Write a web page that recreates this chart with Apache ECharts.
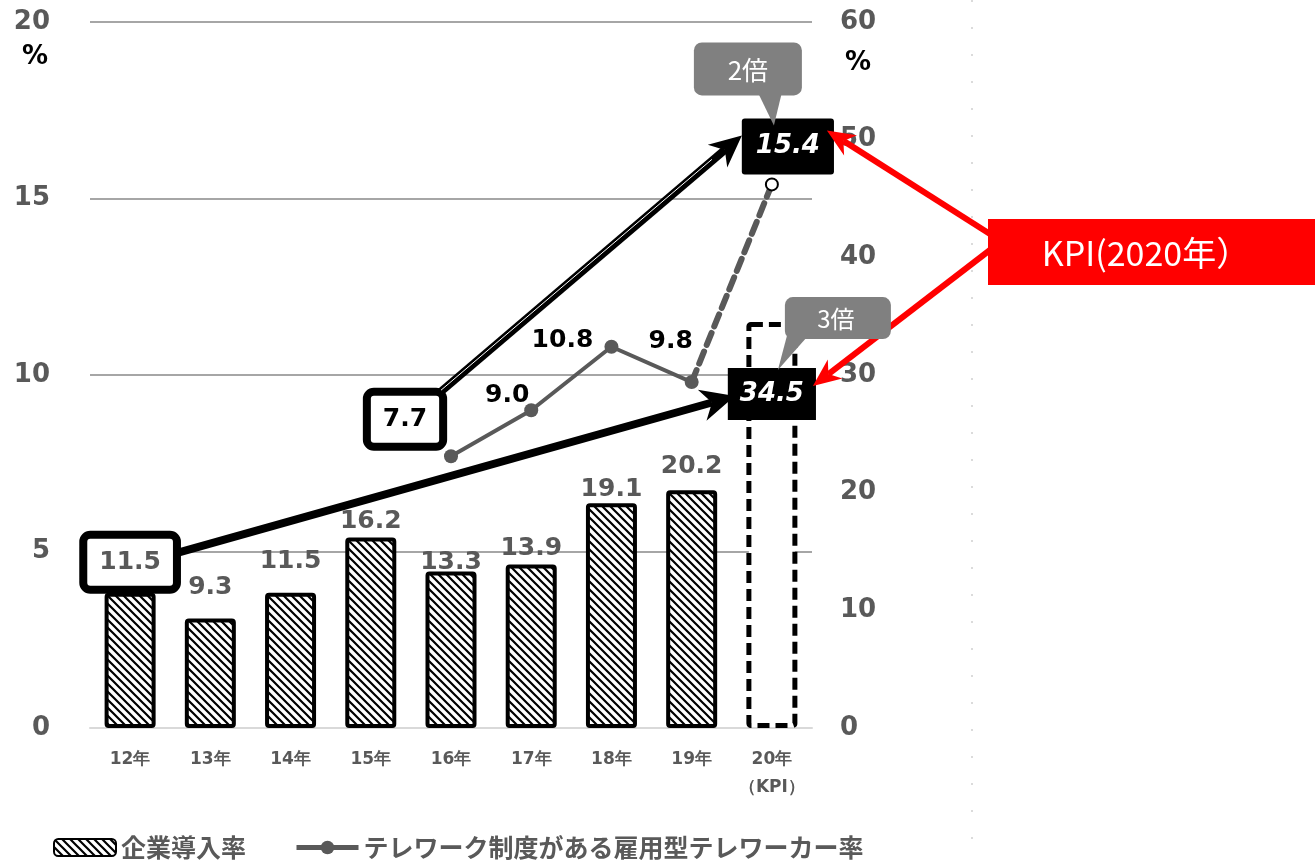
<!DOCTYPE html>
<html>
<head>
<meta charset="utf-8">
<script src="https://cdn.jsdelivr.net/npm/echarts@6/dist/echarts.min.js"></script>
<style>
html,body{margin:0;padding:0;background:#fff;}
#chart{width:1315px;height:860px;}
</style>
</head>
<body>
<div id="chart"></div>
<script>
// ---- data ----
const categories = ['12年','13年','14年','15年','16年','17年','18年','19年','20年\n（KPI）'];
const adoptionRate = [11.5, 9.3, 11.5, 16.2, 13.3, 13.9, 19.1, 20.2, 34.5]; // 企業導入率 (right axis), last = KPI
const teleworkerRate = [null, null, null, null, 7.7, 9.0, 10.8, 9.8];      // 雇用型テレワーカー率 (left axis)
const teleworkerKpi = 15.4;
const leftTicks = {min: 0, max: 20, interval: 5};
const rightTicks = {min: 0, max: 60, interval: 10};
const seriesNames = ['企業導入率', 'テレワーク制度がある雇用型テレワーカー率'];
const kpiText = 'KPI(2020年）';
const calloutTexts = ['2倍', '3倍'];

// ---- layout / style helpers (not data) ----
const barLabelShift = [0, -14, -14, 2, 8, 2, 4, -6, 0];
const GRAY = '#595959';
const NUM_FONT = '"DejaVu Sans", Verdana, sans-serif';
const JP_FONT = '"Noto Sans CJK JP", "Noto Sans", sans-serif';
const fmt1 = p => Number(p.value).toFixed(1);

function hatch() {
  const c = document.createElement('canvas');
  c.width = 8; c.height = 8;
  const g = c.getContext('2d');
  g.fillStyle = '#fff'; g.fillRect(0, 0, 8, 8);
  g.strokeStyle = '#000'; g.lineWidth = 2.2;
  g.beginPath();
  g.moveTo(-1, -1); g.lineTo(9, 9);
  g.moveTo(-5, 3); g.lineTo(5, 13);
  g.moveTo(3, -5); g.lineTo(13, 5);
  g.stroke();
  return c;
}
const hatchPattern = {image: hatch(), repeat: 'repeat'};

const lastIdx = categories.length - 1;

const barData = adoptionRate.map((v, i) => {
  const item = {value: v};
  if (i === 0) {
    item.label = {distance: 7, backgroundColor: '#fff', borderColor: '#000', borderWidth: 8,
      padding: [11, 12], borderRadius: 3};
  } else if (i === lastIdx) {
    item.itemStyle = {color: '#fff', borderColor: '#000', borderWidth: 5, borderType: [12, 6]};
    item.label = {position: ['50%', 46], align: 'center', verticalAlign: 'top',
      backgroundColor: '#000', color: '#fff', fontStyle: 'italic', fontSize: 26,
      lineHeight: 28, padding: [12, 12]};
  } else {
    item.label = {offset: [0, barLabelShift[i]]};
  }
  return item;
});

const lineLabelOffsets = {5: [-24, -15], 6: [-49, -6], 7: [-21, -41]};
const lineData = teleworkerRate.concat([null]).map((v, i) => {
  if (v == null) return '-';
  const item = {value: v};
  if (i === 4) {
    item.label = {show: true, position: 'inside', offset: [-46, -37], color: '#000',
      backgroundColor: '#fff', borderColor: '#000', borderWidth: 8, padding: [11, 12], borderRadius: 3};
  } else if (lineLabelOffsets[i]) {
    item.label = {show: true, position: 'inside', offset: lineLabelOffsets[i], color: '#000'};
  }
  return item;
});

const dashData = categories.map((c, i) => {
  if (i === lastIdx - 1) return {value: teleworkerRate[lastIdx - 1], symbol: 'none'};
  if (i === lastIdx) return {
    value: teleworkerKpi, symbol: 'circle', symbolSize: 12,
    itemStyle: {color: '#fff', borderColor: '#000', borderWidth: 2},
    label: {show: true, position: 'inside', offset: [16, -38], backgroundColor: '#000', color: '#fff',
      fontStyle: 'italic', fontWeight: 'bold', fontSize: 26, lineHeight: 28, padding: [14, 14],
      borderRadius: 3, fontFamily: NUM_FONT, formatter: fmt1}
  };
  return '-';
});

const chart = echarts.init(document.getElementById('chart'), null, {renderer: 'canvas'});

const option = {
  animation: false,
  backgroundColor: '#fff',
  grid: {left: 90, right: 503, top: 22, bottom: 132, containLabel: false},
  legend: {
    left: 48, top: 830, itemWidth: 62, itemHeight: 17, itemGap: 48,
    data: seriesNames,
    lineStyle: {width: 5},
    textStyle: {fontSize: 25, fontWeight: 'bold', color: GRAY, fontFamily: JP_FONT}
  },
  xAxis: {
    type: 'category', data: categories,
    axisLine: {lineStyle: {color: '#d9d9d9', width: 2}},
    axisTick: {show: false},
    axisLabel: {interval: 0, color: GRAY, fontWeight: 'bold', fontSize: 17, margin: 18, lineHeight: 28, fontFamily: NUM_FONT}
  },
  yAxis: [
    Object.assign({type: 'value', position: 'left',
      axisLine: {show: false}, axisTick: {show: false},
      axisLabel: {color: GRAY, fontWeight: 'bold', fontSize: 26, margin: 40, fontFamily: NUM_FONT},
      splitLine: {lineStyle: {color: '#a6a6a6', width: 2}}}, leftTicks),
    Object.assign({type: 'value', position: 'right',
      axisLine: {show: false}, axisTick: {show: false},
      axisLabel: {color: GRAY, fontWeight: 'bold', fontSize: 26, margin: 28, fontFamily: NUM_FONT},
      splitLine: {show: false}}, rightTicks)
  ],
  series: [
    {
      name: seriesNames[0], type: 'bar', yAxisIndex: 1, barWidth: 51,
      data: barData,
      itemStyle: {color: hatchPattern, borderColor: '#000', borderWidth: 4, borderRadius: 2},
      label: {show: true, position: 'top', distance: 5, fontFamily: NUM_FONT, fontWeight: 'bold',
        fontSize: 25, color: GRAY, formatter: fmt1},
      z: 2
    },
    {
      name: seriesNames[1], type: 'line', yAxisIndex: 0,
      data: lineData,
      symbol: 'circle', symbolSize: 14,
      lineStyle: {color: GRAY, width: 4},
      itemStyle: {color: GRAY},
      label: {show: false, fontFamily: NUM_FONT, fontWeight: 'bold', fontSize: 25, color: '#000', formatter: fmt1},
      z: 5
    },
    {
      name: 'KPI', type: 'line', yAxisIndex: 0,
      data: dashData,
      lineStyle: {color: GRAY, width: 6, type: [13, 7], cap: 'round'},
      itemStyle: {color: GRAY},
      label: {show: false},
      z: 4
    }
  ]
};
chart.setOption(option);

// ---- annotations anchored to data points ----
const px = (si, i, v) => chart.convertToPixel({seriesIndex: si}, [i, v]);
const A = px(0, lastIdx, adoptionRate[lastIdx]);   // KPI bar top
const B = px(2, lastIdx, teleworkerKpi);           // KPI line point
const C = px(0, 0, adoptionRate[0]);               // first bar top
const D = px(1, 4, teleworkerRate[4]);             // first line point

function arrow(x1, y1, x2, y2, color, w, hl, hw, z) {
  const dx = x2 - x1, dy = y2 - y1, L = Math.hypot(dx, dy);
  const ux = dx / L, uy = dy / L, nx = -uy, ny = ux;
  const bx = x2 - ux * hl, by = y2 - uy * hl;
  const kx = x2 - ux * hl * 0.7, ky = y2 - uy * hl * 0.7;
  return [
    {type: 'line', z: z, shape: {x1: x1, y1: y1, x2: kx, y2: ky}, style: {stroke: color, lineWidth: w}},
    {type: 'polygon', z: z, shape: {points: [[x2, y2], [bx + nx * hw / 2, by + ny * hw / 2], [kx, ky], [bx - nx * hw / 2, by - ny * hw / 2]]},
      style: {fill: color}}
  ];
}

const g = [];
// faint dotted guide line
g.push({type: 'line', z: 1, shape: {x1: 972, y1: 0, x2: 972, y2: 860}, style: {stroke: '#cfcfcf', lineWidth: 1.5, lineDash: [2, 25]}});
// percent units
g.push({type: 'text', z: 50, style: {x: 35, y: 57, text: '%', align: 'center', verticalAlign: 'middle', fill: '#000',
  font: 'bold 26px ' + NUM_FONT}});
g.push({type: 'text', z: 50, style: {x: 858, y: 63, text: '%', align: 'center', verticalAlign: 'middle', fill: '#000',
  font: 'bold 26px ' + NUM_FONT}});
// black arrows
g.push(...arrow(C[0] + 48, C[1] - 40, A[0] - 37, A[1] + 74, '#000', 8, 34, 32, 60));
g.push(...arrow(D[0] - 12, D[1] - 63, B[0] - 30, B[1] - 49, '#000', 8, 32, 30, 60));
g.push({type: 'line', z: 61, shape: {x1: D[0] - 10, y1: D[1] - 66, x2: B[0] - 60, y2: B[1] - 25},
  style: {stroke: '#fff', lineWidth: 1}});
// red KPI box and arrows
g.push({type: 'rect', z: 60, shape: {x: 988, y: 219, width: 330, height: 66}, style: {fill: '#ff0000'}});
g.push({type: 'text', z: 61, style: {x: 1146, y: 253, text: kpiText, align: 'center', verticalAlign: 'middle',
  fill: '#fff', font: '34px ' + JP_FONT}});
g.push(...arrow(990, 234, B[0] + 55, B[1] - 54, '#ff0000', 6, 28, 24, 62));
g.push(...arrow(990, 250, A[0] + 41, A[1] + 64, '#ff0000', 6, 28, 24, 62));
// callouts
g.push({type: 'rect', z: 70, shape: {x: B[0] - 78, y: B[1] - 142, width: 108, height: 53, r: 8}, style: {fill: '#808080'}});
g.push({type: 'polygon', z: 70, shape: {points: [[B[0] - 14, B[1] - 92], [B[0] + 10, B[1] - 92], [B[0] + 2, B[1] - 59]]}, style: {fill: '#808080'}});
g.push({type: 'text', z: 71, style: {x: B[0] - 24, y: B[1] - 114, text: calloutTexts[0], align: 'center', verticalAlign: 'middle',
  fill: '#fff', font: '26px ' + JP_FONT}});
g.push({type: 'rect', z: 70, shape: {x: A[0] + 13, y: A[1] - 25, width: 106, height: 42, r: 8}, style: {fill: '#808080'}});
g.push({type: 'polygon', z: 70, shape: {points: [[A[0] + 15, A[1] + 14], [A[0] + 36, A[1] + 14], [A[0] + 6, A[1] + 48]]}, style: {fill: '#808080'}});
g.push({type: 'text', z: 71, style: {x: A[0] + 64, y: A[1] - 3, text: calloutTexts[1], align: 'center', verticalAlign: 'middle',
  fill: '#fff', font: '24px ' + JP_FONT}});

chart.setOption({graphic: {elements: g}});
</script>
</body>
</html>
